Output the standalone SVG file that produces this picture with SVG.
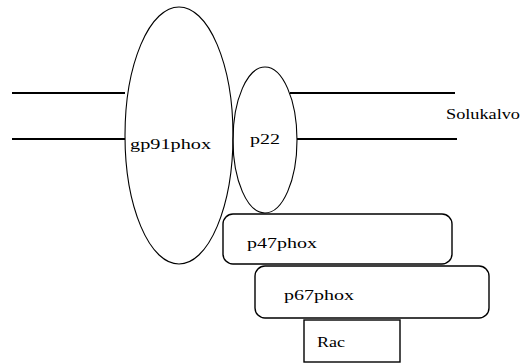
<svg xmlns="http://www.w3.org/2000/svg" width="522" height="363" viewBox="0 0 522 363">
  <style>
    .bg { fill: #ffffff; }
    .membrane { stroke: #000; stroke-width: 2; fill: none; }
    .protein { stroke: #000; stroke-width: 1.1; fill: none; }
    .box { stroke: #000; stroke-width: 1.4; fill: #ffffff; }
    text { font-family: 'Liberation Serif', 'DejaVu Serif', serif; font-size: 14px; fill: #000; }
  </style>
  <rect class="bg" x="0" y="0" width="522" height="363"/>

  <!-- cell membrane bilayer -->
  <g id="connectors">
    <line class="membrane" x1="12" y1="93" x2="125" y2="93"/>
    <line class="membrane" x1="290" y1="93" x2="455" y2="93"/>
    <line class="membrane" x1="12" y1="139" x2="125" y2="139"/>
    <line class="membrane" x1="297" y1="139" x2="457" y2="139"/>
  </g>

  <g id="solukalvo">
    <text x="446" y="119" textLength="74" lengthAdjust="spacingAndGlyphs">Solukalvo</text>
  </g>

  <g id="gp91phox">
    <ellipse class="protein" cx="179" cy="135.5" rx="54" ry="128.5"/>
    <text x="130" y="149" textLength="81" lengthAdjust="spacingAndGlyphs">gp91phox</text>
  </g>

  <g id="p22">
    <ellipse class="protein" cx="265" cy="140" rx="32" ry="73"/>
    <text x="250" y="144" textLength="30" lengthAdjust="spacingAndGlyphs">p22</text>
  </g>

  <g id="p47phox">
    <rect class="box" x="223" y="214" width="229" height="50" rx="10" ry="10"/>
    <text x="247" y="248" textLength="70" lengthAdjust="spacingAndGlyphs">p47phox</text>
  </g>

  <g id="p67phox">
    <rect class="box" x="255" y="266" width="234" height="52" rx="10" ry="10"/>
    <text x="284" y="300" textLength="70" lengthAdjust="spacingAndGlyphs">p67phox</text>
  </g>

  <g id="rac">
    <rect class="box" x="304" y="320" width="96" height="42"/>
    <text x="317" y="347" textLength="28" lengthAdjust="spacingAndGlyphs">Rac</text>
  </g>
</svg>
